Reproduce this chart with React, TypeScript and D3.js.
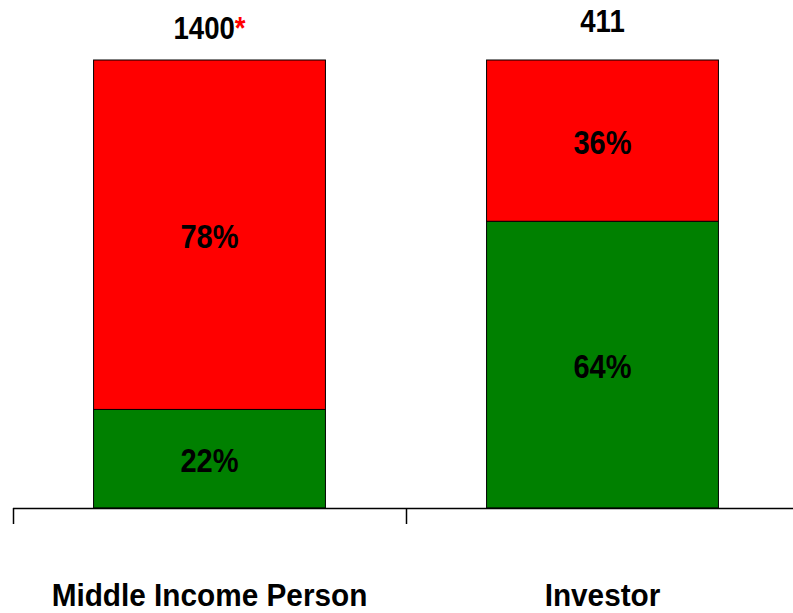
import React from "react";
import * as d3 from "d3";

const categories = ["Middle Income Person", "Investor"];
const totals = ["1400", "411"];
const totalMarks = ["*", ""];
const greenPct = [22, 64];
const redPct = [78, 36];

const W = 793;
const H = 613;
const FONT = "'Liberation Sans', Arial, sans-serif";

function NarrowText(props: { x: number; y: number; size: number; sx: number; children: React.ReactNode }) {
  const { x, y, size, sx, children } = props;
  return (
    <text
      transform={`translate(${x},${y}) scale(${sx},1)`}
      textAnchor="middle"
      fontFamily={FONT}
      fontWeight="bold"
      fontSize={size}
      fill="#000"
    >
      {children}
    </text>
  );
}

export default function App() {
  const x = d3.scaleBand<string>().domain(categories).range([13, 799]).paddingInner(0.41).paddingOuter(0.205);
  const y = d3.scaleLinear().domain([0, 100]).range([508, 60]);
  const bw = x.bandwidth();
  const step = x.step();
  const totalBaselines = [39, 32];

  return (
    <svg width={W} height={H} style={{ position: "absolute", left: 0, top: 0 }}>
      {categories.map((c, i) => {
        const x0 = x(c)!;
        const cx = x0 + bw / 2;
        const g = greenPct[i];
        const r = redPct[i];
        return (
          <g key={c}>
            <rect x={x0} y={y(g)} width={bw} height={y(0) - y(g)} fill="#008000" stroke="#000" strokeWidth={1} />
            <rect x={x0} y={y(g + r)} width={bw} height={y(g) - y(g + r)} fill="#ff0000" stroke="#000" strokeWidth={1} />
            <NarrowText x={cx} y={(y(0) + y(g)) / 2 + 13} size={33} sx={0.88}>
              {g}%
            </NarrowText>
            <NarrowText x={cx} y={(y(g) + y(g + r)) / 2 + 13} size={33} sx={0.88}>
              {r}%
            </NarrowText>
            <NarrowText x={cx} y={totalBaselines[i]} size={31} sx={0.89}>
              {totals[i]}
              <tspan fill="#ff0000">{totalMarks[i]}</tspan>
            </NarrowText>
            <NarrowText x={cx} y={606} size={32} sx={0.93}>
              {c}
            </NarrowText>
          </g>
        );
      })}
      <line x1={13} x2={W} y1={508.5} y2={508.5} stroke="#000" strokeWidth={1.5} />
      {categories.map((c, i) => {
        const tx = Math.round(13 + i * step) + 0.5;
        return <line key={"t" + c} x1={tx} x2={tx} y1={508} y2={524} stroke="#000" strokeWidth={1.5} />;
      })}
    </svg>
  );
}
